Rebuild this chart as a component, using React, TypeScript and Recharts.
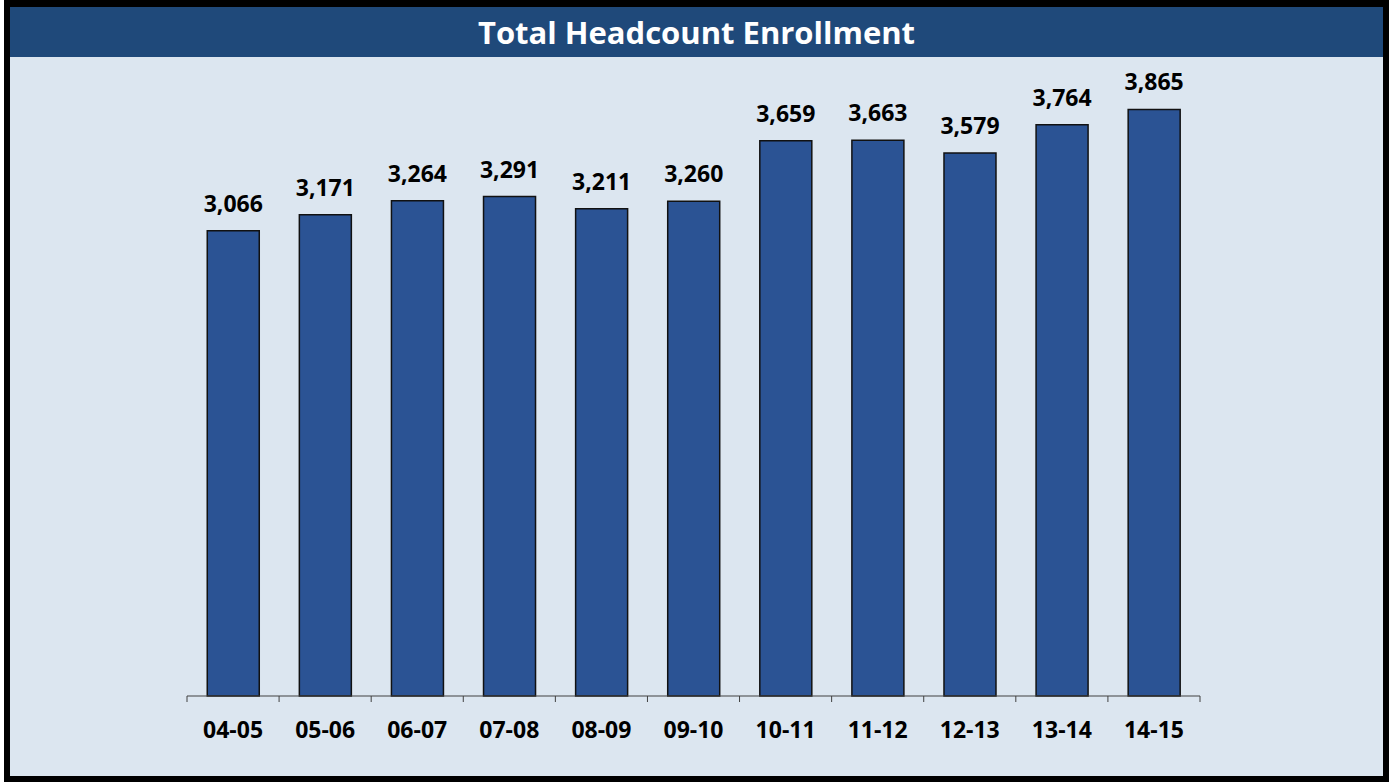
import React from 'react';
import { BarChart, Bar, XAxis, YAxis, LabelList } from 'recharts';

const years = ['04-05', '05-06', '06-07', '07-08', '08-09', '09-10', '10-11', '11-12', '12-13', '13-14', '14-15'];
const headcount = [3066, 3171, 3264, 3291, 3211, 3260, 3659, 3663, 3579, 3764, 3865];

const data = years.map((year, i) => ({ year, value: headcount[i] }));

const FONT = '"Open Sans", "Liberation Sans", sans-serif';
const BAR_FILL = '#2B5394';
const BG = '#DCE6F0';
const AXIS = '#404040';

const CHART_W = 1393;
const MARGIN = { top: 89, right: 193, bottom: 26, left: 187 };
const BAND = (CHART_W - MARGIN.left - MARGIN.right) / years.length;

// category label plus Excel-style tick marks on the category boundaries
const YearTick = ({ x, y, payload, index }: any) => {
    const half = BAND / 2;
    return (
        <g>
            <line x1={x - half} x2={x - half} y1={y} y2={y + 6} stroke={AXIS} strokeWidth={1} />
            {index === years.length - 1 && (
                <line x1={x + half} x2={x + half} y1={y} y2={y + 6} stroke={AXIS} strokeWidth={1} />
            )}
            <text
                x={x}
                y={y + 42}
                textAnchor="middle"
                fill="#000"
                fontSize={23}
                fontWeight={700}
                fontFamily={FONT}
            >
                {payload.value}
            </text>
        </g>
    );
};

const App: React.FC = () => {
    return (
        <div style={{ position: 'absolute', left: 0, top: 0, width: 1393, height: 782, background: '#fff', fontFamily: FONT }}>
            {/* outer frame */}
            <div
                style={{
                    position: 'absolute',
                    left: 4,
                    top: 0,
                    width: 1385,
                    height: 782,
                    boxSizing: 'border-box',
                    border: '6px solid #000',
                    borderTopWidth: 7,
                    background: BG,
                }}
            />
            {/* title bar */}
            <div
                style={{
                    position: 'absolute',
                    left: 10,
                    top: 7,
                    width: 1373,
                    height: 50,
                    background: '#1F497A',
                    color: '#fff',
                    fontWeight: 700,
                    fontSize: 31,
                    lineHeight: '50px',
                    textAlign: 'center',
                }}
            >
                Total Headcount Enrollment
            </div>
            <div style={{ position: 'absolute', left: 0, top: 0 }}>
                <BarChart
                    width={CHART_W}
                    height={782}
                    data={data}
                    margin={MARGIN}
                    barCategoryGap="22%"
                >
                    <XAxis
                        dataKey="year"
                        height={60}
                        axisLine={{ stroke: AXIS, strokeWidth: 1 }}
                        tickLine={false}
                        tickSize={0}
                        tickMargin={0}
                        interval={0}
                        tick={<YearTick />}
                    />
                    <YAxis hide domain={[0, 4000]} />
                    <Bar dataKey="value" fill={BAR_FILL} stroke="#111" strokeWidth={1.5} isAnimationActive={false}>
                        <LabelList
                            dataKey="value"
                            position="top"
                            offset={19}
                            formatter={(v: any) => Number(v).toLocaleString('en-US')}
                            style={{ fill: '#000', fontSize: 23, fontWeight: 700, fontFamily: FONT }}
                        />
                    </Bar>
                </BarChart>
            </div>
        </div>
    );
};

export default App;
